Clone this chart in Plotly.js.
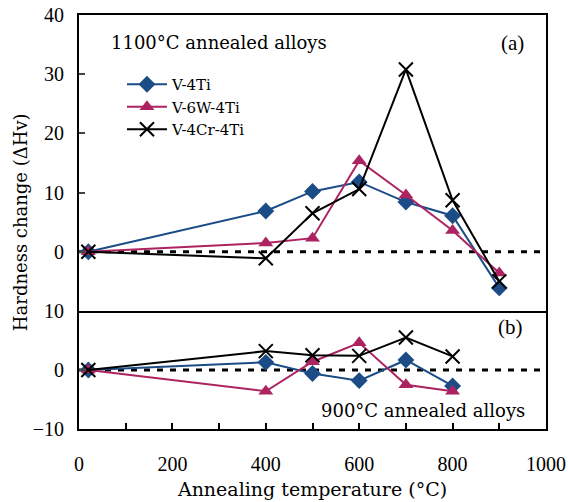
<!DOCTYPE html>
<html>
<head>
<meta charset="utf-8">
<script src="https://cdn.plot.ly/plotly-3.0.1.min.js"></script>
<style>html,body{margin:0;padding:0;background:#fff;}</style>
</head>
<body>
<div id="chart" style="width:568px;height:502px;"></div>
<script>
// Annealing temperatures (°C)
const tempsA = [20, 400, 500, 600, 700, 800, 900];
const tempsB = [20, 400, 500, 600, 700, 800];
// (a) 1100°C annealed alloys
const a_V4Ti    = [0, 6.9, 10.2, 11.8, 8.4, 6.1, -6.1];
const a_V6W4Ti  = [0, 1.5, 2.3, 15.4, 9.6, 3.6, -3.6];
const a_V4Cr4Ti = [0, -1.1, 6.5, 10.6, 30.8, 8.7, -5.0];
// (b) 900°C annealed alloys
const b_V4Ti    = [0, 1.3, -0.6, -1.8, 1.7, -2.7];
const b_V6W4Ti  = [0, -3.6, 1.4, 4.6, -2.5, -3.6];
const b_V4Cr4Ti = [0, 3.2, 2.5, 2.4, 5.5, 2.3];
const seriesNames = ['V-4Ti', 'V-6W-4Ti', 'V-4Cr-4Ti'];
const xTicks = [0, 200, 400, 600, 800, 1000];
const xMinorTicks = [0, 100, 200, 300, 400, 500, 600, 700, 800, 900, 1000];
const yTicksA = [0, 10, 20, 30, 40];
const yTicksB = [-10, 0, 10];

const blue = '#1b4c86', mag = '#ad2260', blk = '#000000';
const styles = [
  {color: blue, symbol: 'diamond', size: 13, lw: 0},
  {color: mag, symbol: 'triangle-up', size: 13, lw: 0},
  {color: blk, symbol: 'x-thin-open', size: 14, lw: 2}
];
const aData = [a_V4Ti, a_V6W4Ti, a_V4Cr4Ti];
const bData = [b_V4Ti, b_V6W4Ti, b_V4Cr4Ti];
const traces = [];
for (let i = 0; i < 3; i++) {
  const s = styles[i];
  const mk = {symbol: s.symbol, size: s.size, color: s.color, line: {color: s.color, width: s.lw}};
  traces.push({x: tempsA, y: aData[i], xaxis: 'x2', yaxis: 'y', mode: 'lines+markers', name: seriesNames[i],
    line: {color: s.color, width: 2}, marker: mk, showlegend: true, cliponaxis: false});
}
for (let i = 0; i < 3; i++) {
  const s = styles[i];
  const mk = {symbol: s.symbol, size: s.size, color: s.color, line: {color: s.color, width: s.lw}};
  traces.push({x: tempsB, y: bData[i], xaxis: 'x', yaxis: 'y2', mode: 'lines+markers', name: seriesNames[i],
    line: {color: s.color, width: 2}, marker: mk, showlegend: false, cliponaxis: false});
}
const serif = 'Liberation Serif, Times New Roman, serif';
const txt = 'DejaVu Serif, serif';
const splitFrac = (429 - 311) / 414;
const layout = {
  width: 568, height: 502,
  margin: {l: 79, r: 22, t: 15, b: 73},
  paper_bgcolor: '#fff', plot_bgcolor: '#fff',
  showlegend: true,
  legend: {x: 0.092, y: 0.872, xanchor: 'left', yanchor: 'top', bgcolor: 'rgba(0,0,0,0)',
    font: {family: txt, size: 15, color: '#000'}, tracegroupgap: 0, itemwidth: 40},
  xaxis: {range: [0, 1000], anchor: 'y2', tickvals: xMinorTicks,
    ticktext: xMinorTicks.map(v => xTicks.includes(v) ? String(v) : ''),
    ticks: 'inside', ticklen: 6, tickwidth: 2, tickcolor: '#000', ticklabelstandoff: 16,
    showline: true, linewidth: 2, linecolor: '#000', mirror: false, showgrid: false, zeroline: false,
    tickfont: {family: serif, size: 20, color: '#000'},
    title: {text: 'Annealing temperature (°C)', font: {family: txt, size: 19, color: '#000'}, standoff: 9}},
  xaxis2: {range: [0, 1000], anchor: 'y', matches: 'x', showticklabels: false, ticks: '',
    showline: true, linewidth: 2, linecolor: '#000', mirror: true, showgrid: false, zeroline: false},
  yaxis: {domain: [splitFrac, 1], range: [-10, 40], tickvals: yTicksA, ticks: 'inside', ticklen: 6, tickwidth: 2,
    ticklabelstandoff: 9,
    showline: true, linewidth: 2, linecolor: '#000', mirror: true, showgrid: false, zeroline: false,
    tickfont: {family: serif, size: 20, color: '#000'}},
  yaxis2: {domain: [0, splitFrac], range: [-10, 10], tickvals: yTicksB, ticks: 'inside', ticklen: 6, tickwidth: 2,
    ticklabelstandoff: 9,
    showline: true, linewidth: 2, linecolor: '#000', mirror: true, showgrid: false, zeroline: false,
    tickfont: {family: serif, size: 20, color: '#000'}},
  shapes: [
    {type: 'line', xref: 'x2', yref: 'y', x0: 0, x1: 1000, y0: 0, y1: 0, layer: 'below',
      line: {color: '#000', width: 3, dash: '6px,7px'}},
    {type: 'line', xref: 'x', yref: 'y2', x0: 0, x1: 1000, y0: 0, y1: 0, layer: 'below',
      line: {color: '#000', width: 3, dash: '6px,7px'}}
  ],
  annotations: [
    {text: '1100°C annealed alloys', xref: 'x2', yref: 'y', x: 64, y: 35.3, xanchor: 'left', yanchor: 'middle',
      showarrow: false, font: {family: txt, size: 18, color: '#000'}},
    {text: '(a)', xref: 'x2', yref: 'y', x: 957, y: 35.3, xanchor: 'right', yanchor: 'middle',
      showarrow: false, font: {family: serif, size: 21, color: '#000'}},
    {text: '(b)', xref: 'x', yref: 'y2', x: 955, y: 7.3, xanchor: 'right', yanchor: 'middle',
      showarrow: false, font: {family: serif, size: 21, color: '#000'}},
    {text: '900°C annealed alloys', xref: 'x', yref: 'y2', x: 959, y: -6.8, xanchor: 'right', yanchor: 'middle',
      showarrow: false, font: {family: txt, size: 18, color: '#000'}},
    {text: 'Hardness change (ΔHv)', xref: 'paper', yref: 'paper', x: -0.126, y: 0.5, xanchor: 'center', yanchor: 'middle',
      textangle: -90, showarrow: false, font: {family: txt, size: 18, color: '#000'}}
  ]
};
Plotly.newPlot('chart', traces, layout, {displayModeBar: false, staticPlot: true});
</script>
</body>
</html>
